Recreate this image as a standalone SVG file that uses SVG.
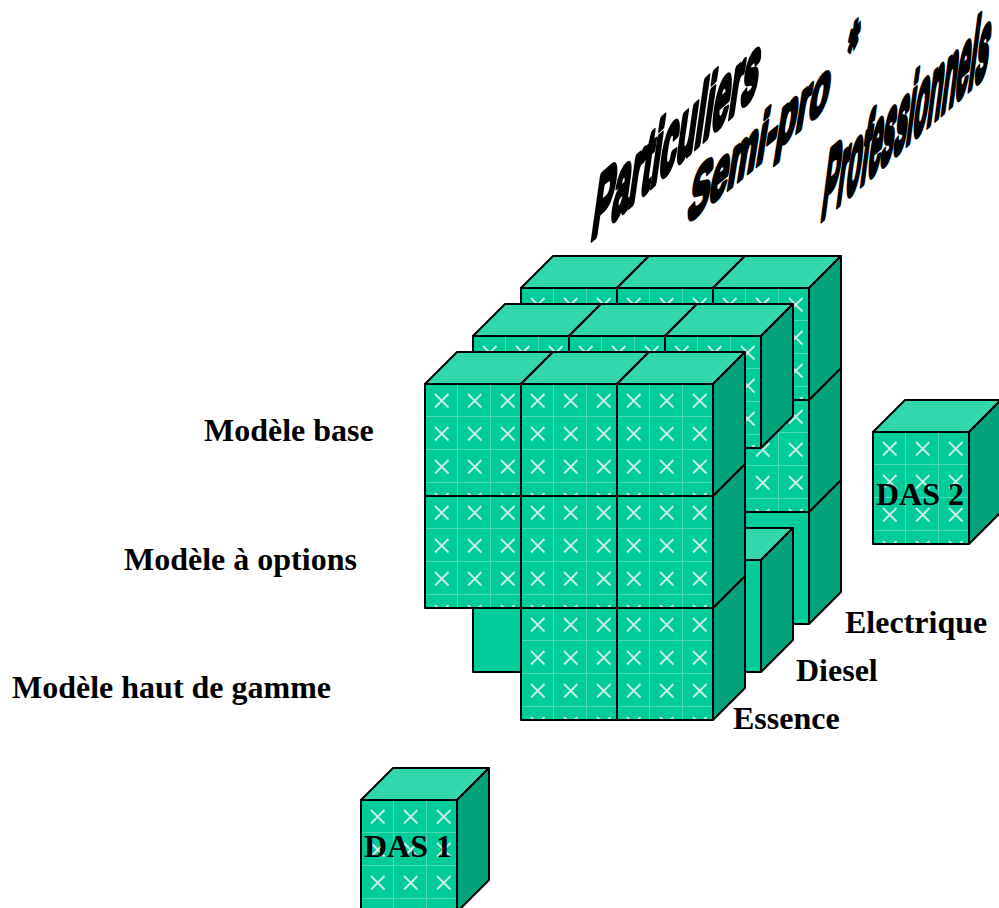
<svg xmlns="http://www.w3.org/2000/svg" xmlns:xlink="http://www.w3.org/1999/xlink" width="999" height="908" viewBox="0 0 999 908">
<style>
.e{stroke:#000;stroke-width:2;stroke-linejoin:round}
.top{fill:#33D7AE}
.side{fill:#00A37A}
.plain{fill:#00CC99}
.tex{fill:url(#tile)}
text{font-family:"Liberation Serif","Times New Roman",serif;font-weight:700;font-size:32px;fill:#000}
text.wa{font-family:"Liberation Sans",Arial,sans-serif;font-size:100px;font-weight:700;fill:#000;stroke:#000;stroke-width:8;stroke-linejoin:round}
</style>
<defs>
<pattern id="tile" patternUnits="userSpaceOnUse" x="0" y="0" width="33" height="33">
<rect width="33" height="33" fill="#00CC99"/>
<path d="M33 0V33M0 33H33" stroke="#5FDFBF" stroke-width="1.5" fill="none"/>
<path d="M10 10L23.5 23.5M23.5 10L10 23.5" stroke="#C6F3E7" stroke-width="1.8" fill="none"/>
</pattern>
<g id="shell">
<path class="top e" d="M0 0L32 -32H128L96 0Z"/>
<path class="side e" d="M96 0L128 -32V80L96 112Z"/>
</g>
<g id="cubeT"><use href="#shell"/><rect class="tex e" width="96" height="112"/></g>
<g id="cubeP"><use href="#shell"/><rect class="plain e" width="96" height="112"/></g>
</defs>
<g id="back-layer">
<use id="b-r3-c3" href="#cubeP" x="713" y="512"/>
<use id="b-r2-c3" href="#cubeT" x="713" y="400"/>
<use id="b-r1-c1" href="#cubeT" x="521" y="288"/>
<use id="b-r1-c2" href="#cubeT" x="617" y="288"/>
<use id="b-r1-c3" href="#cubeT" x="713" y="288"/>
</g>
<g id="middle-layer">
<use id="m-r3-c1" href="#cubeP" x="473" y="560"/>
<use id="m-r3-c3" href="#cubeP" x="665" y="560"/>
<use id="m-r1-c1" href="#cubeT" x="473" y="336"/>
<use id="m-r1-c2" href="#cubeT" x="569" y="336"/>
<use id="m-r1-c3" href="#cubeT" x="665" y="336"/>
</g>
<g id="front-layer">
<use id="f-r3-c2" href="#cubeT" x="521" y="608"/>
<use id="f-r3-c3" href="#cubeT" x="617" y="608"/>
<use id="f-r2-c1" href="#cubeT" x="425" y="496"/>
<use id="f-r2-c2" href="#cubeT" x="521" y="496"/>
<use id="f-r2-c3" href="#cubeT" x="617" y="496"/>
<use id="f-r1-c1" href="#cubeT" x="425" y="384"/>
<use id="f-r1-c2" href="#cubeT" x="521" y="384"/>
<use id="f-r1-c3" href="#cubeT" x="617" y="384"/>
</g>
<g id="das1"><use href="#cubeT" x="361" y="800"/><text x="364" y="857">DAS 1</text></g>
<g id="das2"><use href="#cubeT" x="873" y="432"/><text x="876" y="505">DAS 2</text></g>
<g id="labels">
<text x="204" y="441">Modèle base</text>
<text x="124" y="570">Modèle à options</text>
<text x="12" y="698">Modèle haut de gamme</text>
<text x="733" y="729">Essence</text>
<text x="796" y="681">Diesel</text>
<text x="845" y="633">Electrique</text>
</g>
<g id="headers">
<text class="wa" transform="matrix(.305 -.27 -.13 .92 590 241)">Particuliers</text>
<text class="wa" transform="matrix(.325 -.27 -.12 .75 686 224)">Semi-pro</text>
<text class="wa" transform="matrix(.27 -.25 -.1 .75 844 78)">*</text>
<text class="wa" transform="matrix(.232 -.205 -.13 1 820 221)">Professionnels</text>
</g>
</svg>
